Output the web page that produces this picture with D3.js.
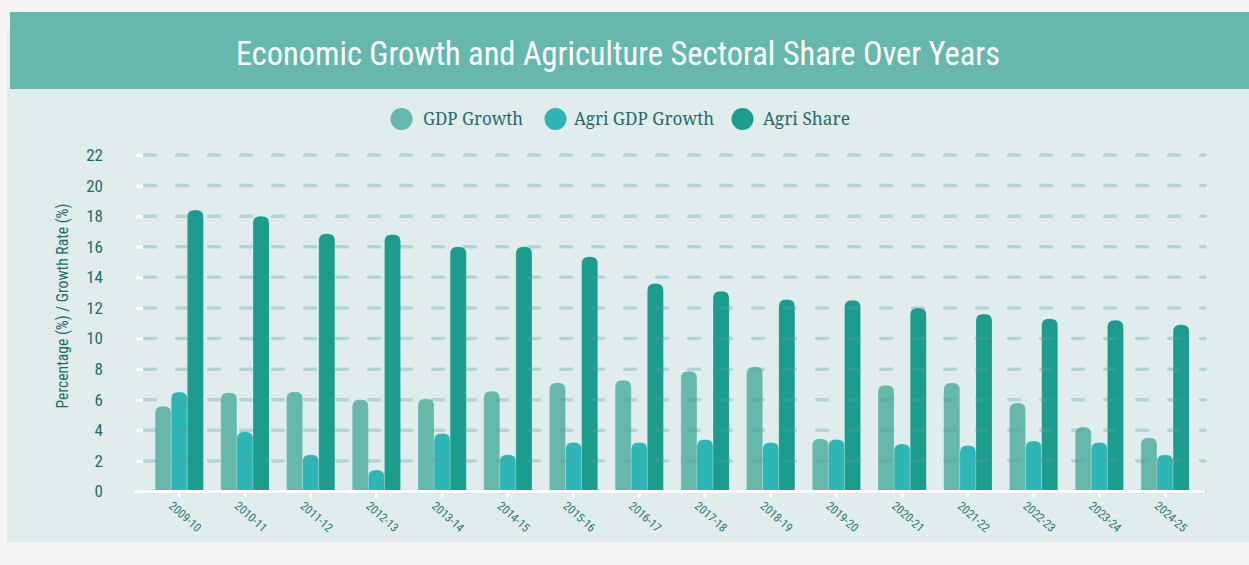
<!DOCTYPE html>
<html><head><meta charset="utf-8">
<script src="https://cdn.jsdelivr.net/npm/d3@7"></script>
<style>
html,body{margin:0;padding:0;background:#f6f5f3;}
svg{display:block;}
</style></head>
<body>
<svg id="chart" width="1249" height="565"></svg>
<script>
const years = ["2009-10","2010-11","2011-12","2012-13","2013-14","2014-15","2015-16","2016-17","2017-18","2018-19","2019-20","2020-21","2021-22","2022-23","2023-24","2024-25"];
const gdpGrowth = [5.57,6.46,6.52,6.01,6.06,6.55,7.11,7.28,7.86,8.15,3.45,6.94,7.10,5.78,4.22,3.51];
const agriGdpGrowth = [6.5,3.9,2.4,1.4,3.8,2.4,3.2,3.2,3.4,3.2,3.4,3.1,3.0,3.3,3.2,2.4];
const agriShare = [18.4,18.0,16.85,16.8,16.0,16.0,15.35,13.6,13.1,12.55,12.5,12.0,11.6,11.3,11.2,10.9];
const seriesNames = ["GDP Growth","Agri GDP Growth","Agri Share"];
const seriesColors = ["#66b8aa","#2eb5b5","#1b9c8c"];
const yTicks = [0,2,4,6,8,10,12,14,16,18,20,22];

const condensed = "'Roboto Condensed','Liberation Sans Narrow','DejaVu Sans Condensed',Roboto,sans-serif";
const svg = d3.select("#chart");
// panel
svg.append("rect").attr("x",7).attr("y",30).attr("width",1249).attr("height",512).attr("fill","#e1eded");
svg.append("rect").attr("x",10).attr("y",12).attr("width",1245).attr("height",77).attr("fill","#66b8ac");
svg.append("text").attr("x",618).attr("y",65).attr("text-anchor","middle")
  .attr("fill","#ffffff").style("font-family",condensed)
  .style("font-size","34px").style("font-weight","400")
  .attr("textLength",764).attr("lengthAdjust","spacingAndGlyphs")
  .text("Economic Growth and Agriculture Sectoral Share Over Years");

// legend
const legendPos = [{cx:401.5,tx:423},{cx:555.5,tx:574},{cx:742.5,tx:763}];
const legendW = [100,140,87];
seriesNames.forEach((n,i)=>{
  svg.append("circle").attr("cx",legendPos[i].cx).attr("cy",119).attr("r",11).attr("fill",seriesColors[i]);
  svg.append("text").attr("x",legendPos[i].tx).attr("y",125).attr("fill","#1f6b6b")
    .style("font-family","'Noto Serif','DejaVu Serif',serif").style("font-size","18px")
    .attr("textLength",legendW[i]).attr("lengthAdjust","spacingAndGlyphs")
    .text(n);
});

const x0 = d3.scaleBand().domain(years).range([146.4,1197.9]).paddingInner(0.265).paddingOuter(0.1325);
const x1 = d3.scaleBand().domain(seriesNames).range([0,x0.bandwidth()]);
const y = d3.scaleLinear().domain([0,22]).range([491.5,155]);

const data = years.map((yr,i)=>({year:yr, values:[gdpGrowth[i],agriGdpGrowth[i],agriShare[i]]}));

function topRounded(x,yTop,w,h,r){
  r = Math.min(r,w/2,h);
  return `M${x},${yTop+h}V${yTop+r}Q${x},${yTop} ${x+r},${yTop}H${x+w-r}Q${x+w},${yTop} ${x+w},${yTop+r}V${yTop+h}Z`;
}
const g = svg.append("g");
data.forEach(d=>{
  d.values.forEach((v,j)=>{
    const bx = x0(d.year)+x1(seriesNames[j]);
    g.append("path").attr("d",topRounded(bx,y(v),x1.bandwidth(),y(0)-y(v),7))
      .attr("fill",seriesColors[j]).attr("stroke","rgba(255,255,255,0.25)").attr("stroke-width",0.8);
  });
});

// gridlines on top
const grid = svg.append("g");
yTicks.forEach(t=>{
  grid.append("line").attr("x1",144.5).attr("x2",1205).attr("y1",y(t)).attr("y2",y(t))
    .attr("stroke","rgba(90,160,168,0.33)").attr("stroke-width",3.5)
    .attr("stroke-dasharray","11,21").attr("stroke-linecap","round");
});

// y axis
const yAxis = svg.append("g").attr("transform","translate(143,0)")
  .call(d3.axisLeft(y).tickValues(yTicks).tickSize(7).tickPadding(33));
yAxis.select(".domain").remove();
yAxis.selectAll(".tick line").attr("stroke","#ffffff").attr("stroke-width",3);
yAxis.selectAll(".tick text").attr("fill","#1f6b6b")
  .style("font-family",condensed).style("font-size","17px");

// x axis
const xAxis = svg.append("g").attr("transform",`translate(0,${y(0)})`)
  .call(d3.axisBottom(x0).tickSize(6).tickSizeOuter(0));
xAxis.select(".domain").attr("d","M136,0H1204").attr("stroke","#ffffff").attr("stroke-width",3).attr("stroke-linecap","round");
xAxis.selectAll(".tick line").attr("stroke","#ffffff").attr("stroke-width",2.5);
xAxis.selectAll(".tick text").attr("fill","#2a7878")
  .style("font-family",condensed)
  .style("font-size","12px").style("text-anchor","start")
  .attr("transform","translate(0,3) rotate(42)").attr("dy","0.9em").attr("y",6);

// y title
svg.append("text").attr("transform","translate(68,306) rotate(-90)").attr("text-anchor","middle")
  .attr("fill","#1f6b6b").style("font-family",condensed)
  .style("font-size","17px").attr("textLength",205).attr("lengthAdjust","spacingAndGlyphs")
  .text("Percentage (%) / Growth Rate (%)");
</script>
</body></html>
